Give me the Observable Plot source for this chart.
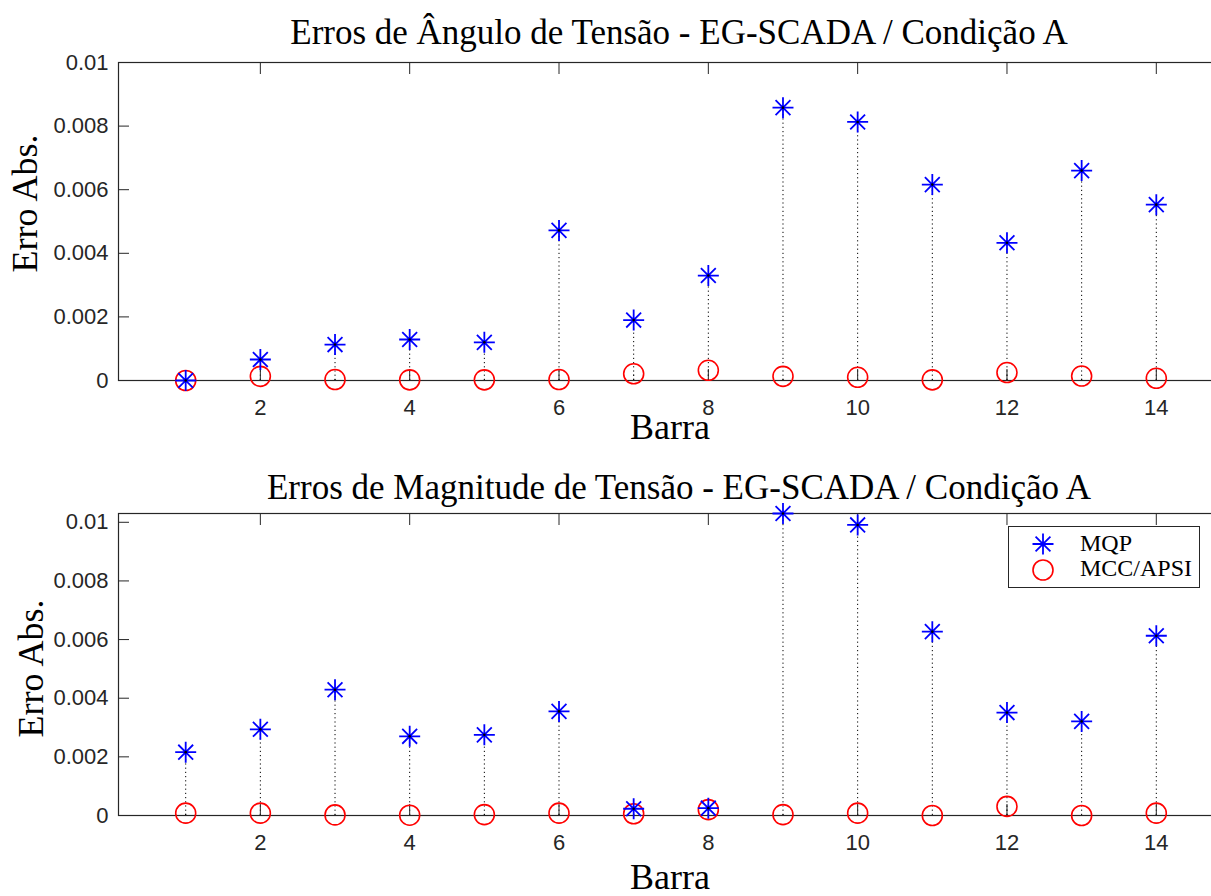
<!DOCTYPE html>
<html>
<head>
<meta charset="utf-8">
<script src="https://cdn.jsdelivr.net/npm/d3@7"></script>
<script src="https://cdn.jsdelivr.net/npm/@observablehq/plot@0.6"></script>
<style>
  body { margin: 0; background: #fff; }
  #fig { position: relative; width: 1211px; height: 896px; overflow: hidden; background: #fff; }
  .panel { position: absolute; left: 0; max-width: none !important; }
  #legenda { position: absolute; left: 1008px; top: 526px; width: 190px; height: 60px;
             border: 1px solid #262626; background: #fff; }
</style>
</head>
<body>
<div id="fig"></div>
<script>
// Barras do sistema de 14 barras
const barras = [1, 2, 3, 4, 5, 6, 7, 8, 9, 10, 11, 12, 13, 14];

// Erros absolutos de ângulo de tensão
const anguloMQP = [0, 0.00066, 0.00113, 0.00129, 0.0012, 0.00472, 0.0019, 0.0033,
                   0.00858, 0.00813, 0.00616, 0.00433, 0.0066, 0.00553];
const anguloMCC = [0, 0.00013, 0.00003, 0.00002, 0.00002, 0.00003, 0.00021, 0.00032,
                   0.00013, 0.0001, 0.00002, 0.00025, 0.00014, 0.00007];

// Erros absolutos de magnitude de tensão
const magMQP = [0.00216, 0.00294, 0.00429, 0.0027, 0.00275, 0.00355, 0.00023, 0.00025,
                0.0103, 0.00991, 0.00627, 0.00351, 0.00321, 0.00613];
const magMCC = [0.00008, 0.00008, 0.00002, 0.00001, 0.00003, 0.00008, 0.00006, 0.0002,
                0.00003, 0.00008, 0, 0.00031, 0, 0.00008];

const xTicks = [2, 4, 6, 8, 10, 12, 14];
const yTicks = [0, 0.002, 0.004, 0.006, 0.008, 0.01];
const titulos = [
  "Erros de Ângulo de Tensão - EG-SCADA / Condição A",
  "Erros de Magnitude de Tensão - EG-SCADA / Condição A"
];
const rotuloX = "Barra";
const rotuloY = "Erro Abs.";
const series = ["MQP", "MCC/APSI"];

const AZUL = "#0000ff", VERMELHO = "#ff0000", EIXO = "#262626";
const SERIF = "'Liberation Serif', 'DejaVu Serif', serif";
const SANS = "'Liberation Sans', Arial, sans-serif";

// Asterisco de 8 pontas (horizontal, vertical e duas diagonais)
const asterisco = {
  draw(ctx, size) {
    const r = Math.sqrt(size / Math.PI);
    const d = r * Math.SQRT1_2;
    ctx.moveTo(-r, 0); ctx.lineTo(r, 0);
    ctx.moveTo(0, -r); ctx.lineTo(0, r);
    ctx.moveTo(-d, -d); ctx.lineTo(d, d);
    ctx.moveTo(-d, d); ctx.lineTo(d, -d);
  }
};

const fmt = v => v === 0 ? "0" : String(+v.toFixed(3));

function painel({titulo, mqp, mcc, yMax, top, height, marginTop, marginBottom,
                 tituloDy, barraDy, yLabelDy, yLabelDx}) {
  const dMQP = barras.map((b, i) => ({barra: b, v: mqp[i]}));
  const dMCC = barras.map((b, i) => ({barra: b, v: mcc[i]}));
  const chart = Plot.plot({
    width: 1230,
    height,
    marginLeft: 118,
    marginRight: 7,
    marginTop,
    marginBottom,
    style: {background: "transparent", overflow: "visible"},
    x: {domain: [0.1, 14.9]},
    y: {domain: [0, yMax]},
    marks: [
      // hastes pontilhadas a partir da linha de base
      Plot.ruleX(dMQP, {x: "barra", y1: 0, y2: "v", stroke: "#000", strokeWidth: 1, strokeDasharray: "1.2,3"}),
      Plot.ruleX(dMCC, {x: "barra", y1: 0, y2: "v", stroke: "#000", strokeWidth: 1, strokeDasharray: "1.2,3"}),
      Plot.ruleY([0], {stroke: "#000", strokeWidth: 1.2}),
      Plot.frame({stroke: EIXO, strokeWidth: 1.2}),
      // marcas de escala para dentro, nos quatro lados
      Plot.axisX({ticks: xTicks, tickSize: -11, tickPadding: 30, tickFormat: d => String(d),
                  fontSize: 22, fontFamily: SANS, color: EIXO, stroke: EIXO, label: null}),
      Plot.axisX({anchor: "top", ticks: xTicks, tickSize: -11, tickFormat: () => "",
                  stroke: EIXO, label: null}),
      Plot.axisY({ticks: yTicks, tickSize: -11, tickPadding: 21, tickFormat: fmt,
                  fontSize: 22, fontFamily: SANS, color: EIXO, stroke: EIXO, label: null}),
      Plot.axisY({anchor: "right", ticks: yTicks, tickSize: -11, tickFormat: () => "",
                  stroke: EIXO, label: null}),
      // marcadores
      Plot.dot(dMCC, {x: "barra", y: "v", r: 10, symbol: "circle", fill: "none", stroke: VERMELHO, strokeWidth: 1.6}),
      Plot.dot(dMQP, {x: "barra", y: "v", r: 10.5, symbol: asterisco, fill: "none", stroke: AZUL, strokeWidth: 1.8}),
      Plot.dot(dMQP, {x: "barra", y: "v", r: 1.3, fill: "#000", stroke: null}),
      // título e rótulos
      Plot.text([titulo], {frameAnchor: "top", lineAnchor: "bottom", textAnchor: "middle", dx: 8, dy: tituloDy,
                           fontSize: 35, fontFamily: SERIF, fill: "#000"}),
      Plot.text([rotuloX], {frameAnchor: "bottom", lineAnchor: "bottom", textAnchor: "middle", dx: -1, dy: barraDy,
                            fontSize: 36, fontFamily: SERIF, fill: "#000"}),
      Plot.text([rotuloY], {frameAnchor: "left", lineAnchor: "bottom", textAnchor: "middle", rotate: -90,
                            dx: yLabelDx, dy: yLabelDy, fontSize: 36, fontFamily: SERIF, fill: "#000"})
    ]
  });
  chart.classList.add("panel");
  chart.style.maxWidth = "none";
  chart.style.width = "1230px";
  chart.style.height = height + "px";
  chart.style.top = top + "px";
  return chart;
}

const fig = document.getElementById("fig");

fig.appendChild(painel({
  titulo: titulos[0], mqp: anguloMQP, mcc: anguloMCC, yMax: 0.01,
  top: 0, height: 450, marginTop: 62, marginBottom: 70,
  tituloDy: -19, barraDy: 58, yLabelDx: -82, yLabelDy: -18
}));

fig.appendChild(painel({
  titulo: titulos[1], mqp: magMQP, mcc: magMCC, yMax: 0.0103,
  top: 450, height: 446, marginTop: 63, marginBottom: 81,
  tituloDy: -15, barraDy: 73, yLabelDx: -76, yLabelDy: 4
}));

// legenda do painel inferior
const leg = d3.select(fig).append("div").attr("id", "legenda");
const lsvg = leg.append("svg").attr("width", 190).attr("height", 60);
lsvg.append("path")
  .attr("transform", "translate(34,17)")
  .attr("d", d3.symbol(asterisco, Math.PI * 10.5 * 10.5)())
  .attr("fill", "none").attr("stroke", AZUL).attr("stroke-width", 1.8);
lsvg.append("circle")
  .attr("cx", 34).attr("cy", 43).attr("r", 10)
  .attr("fill", "none").attr("stroke", VERMELHO).attr("stroke-width", 1.6);
lsvg.selectAll("text").data(series).join("text")
  .attr("x", 71).attr("y", (d, i) => 24 + i * 25)
  .attr("font-family", SERIF).attr("font-size", 24).attr("fill", "#000")
  .text(d => d);
</script>
</body>
</html>
